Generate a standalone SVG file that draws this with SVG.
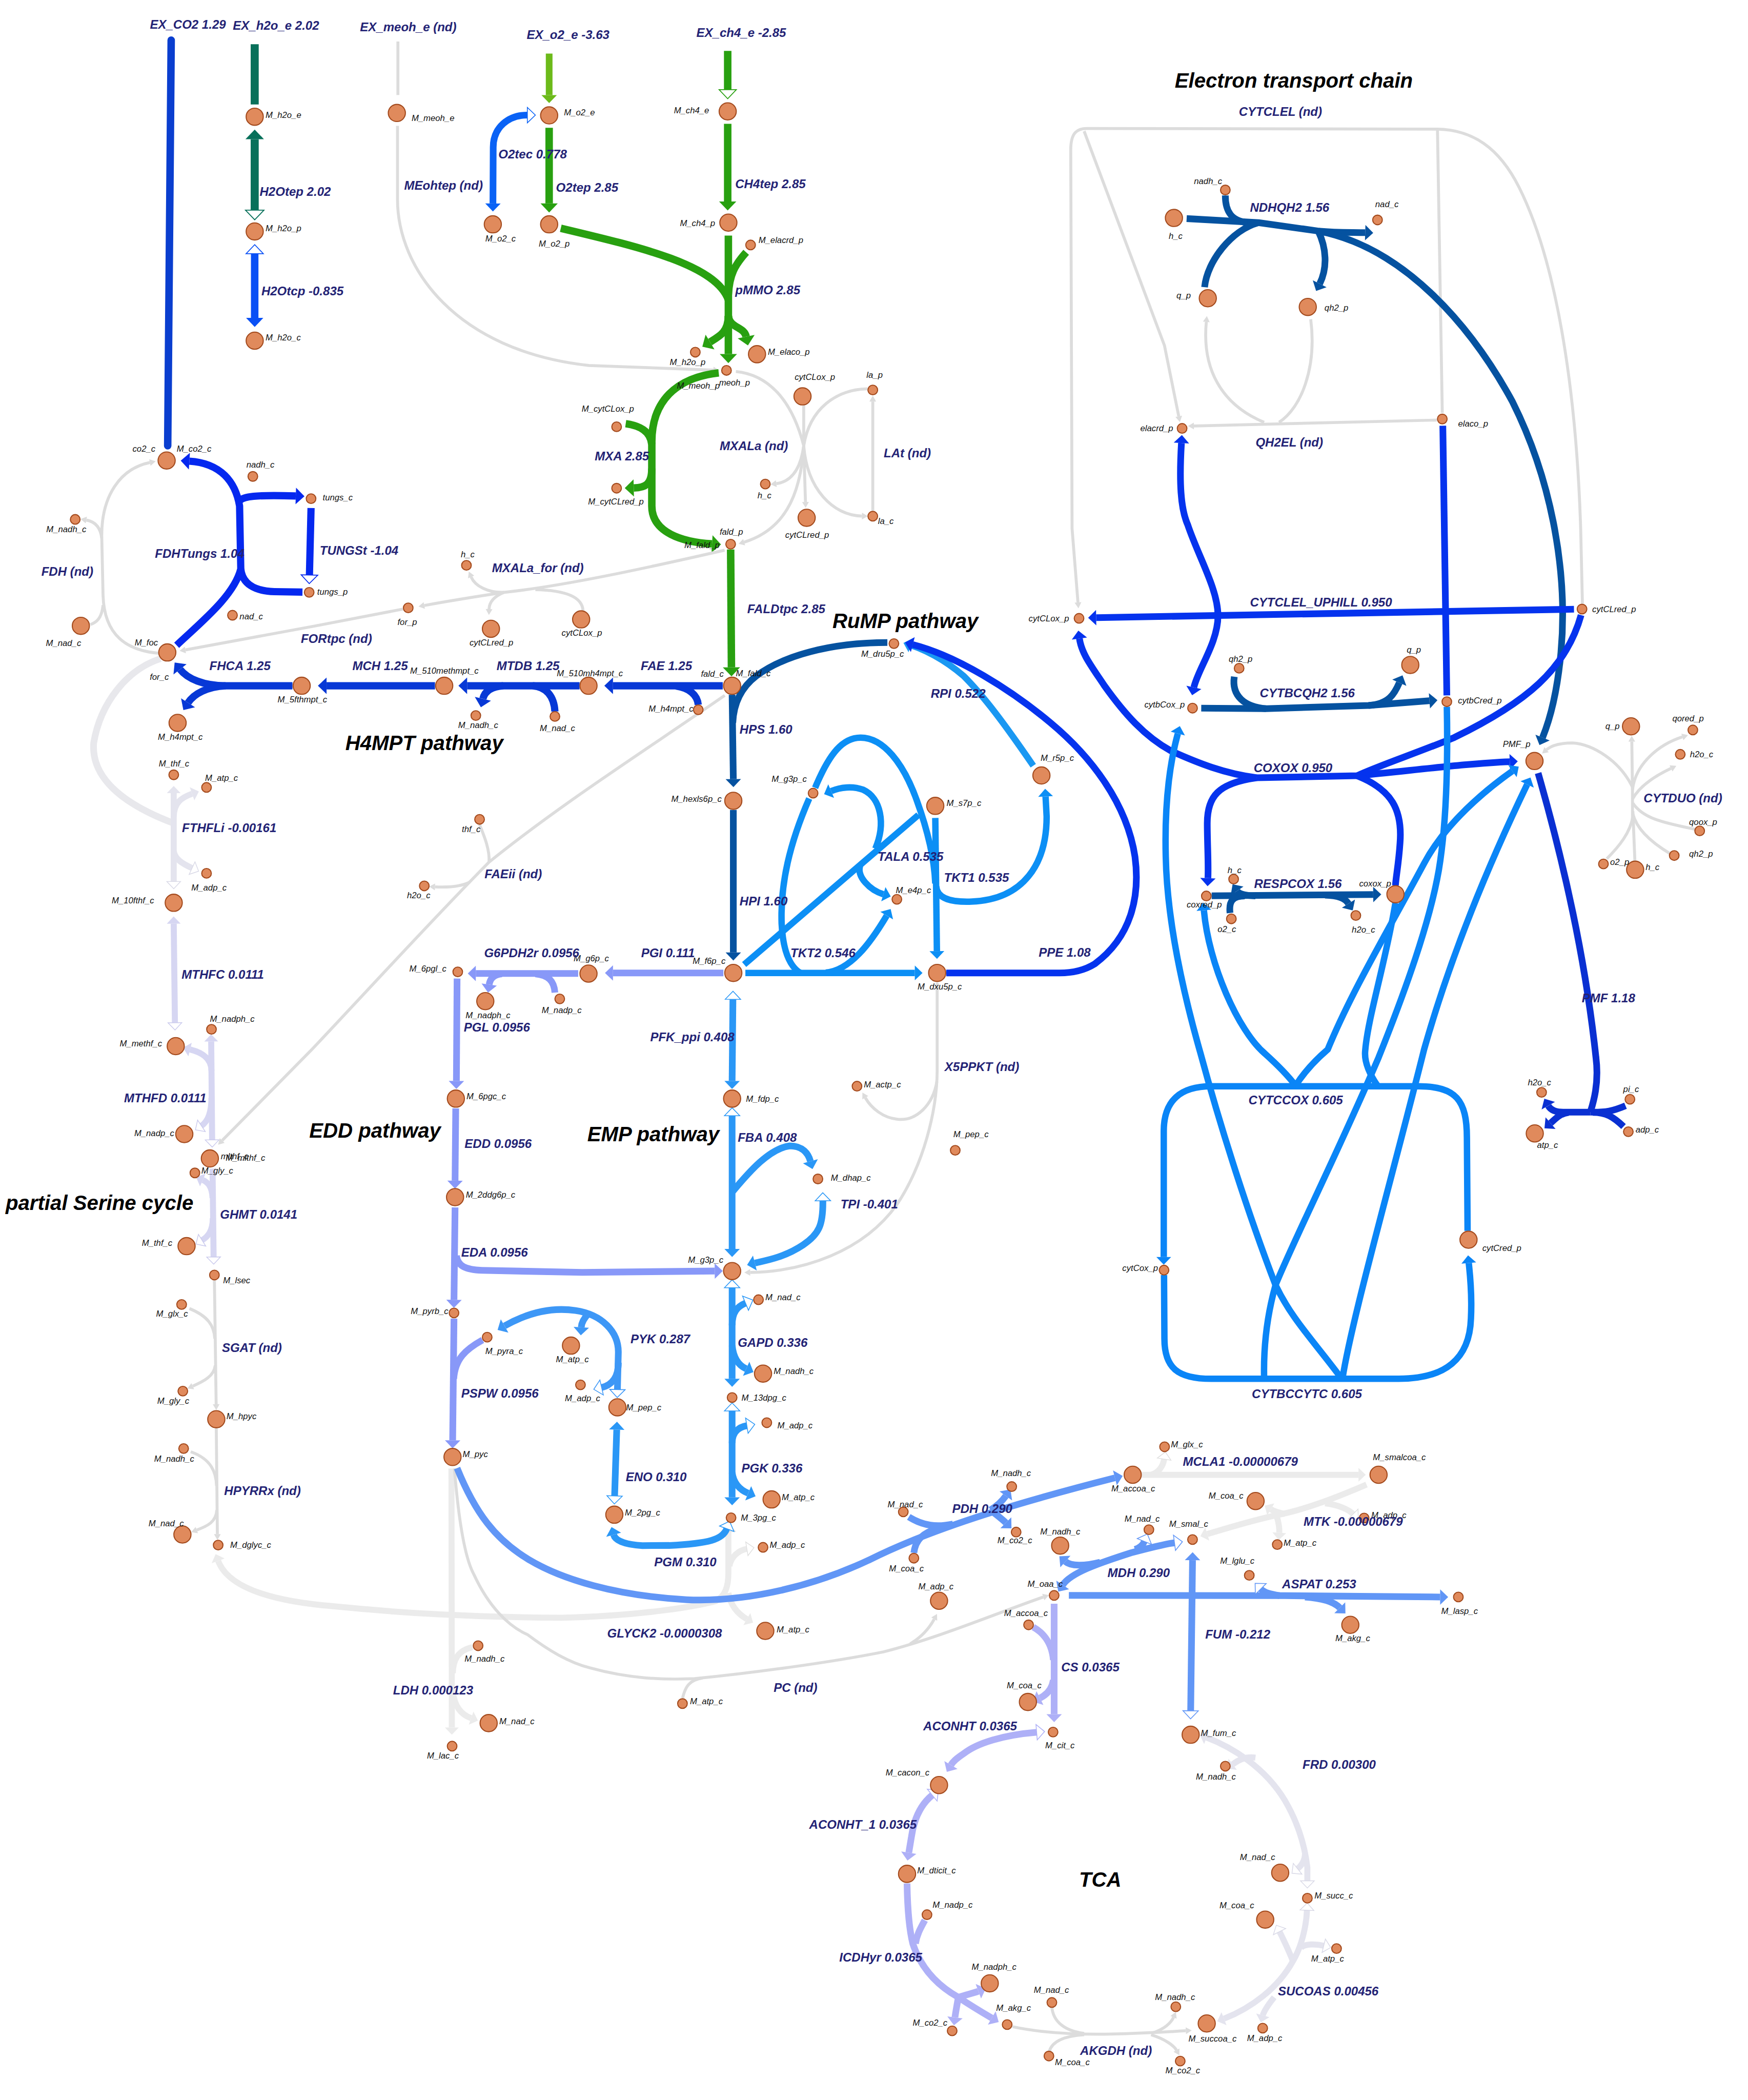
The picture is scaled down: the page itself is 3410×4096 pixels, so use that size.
<svg xmlns="http://www.w3.org/2000/svg" width="3410" height="4096" viewBox="0 0 3410 4096">
<style>
.l{fill:none;stroke-linejoin:round}
.g{stroke:#dcdcdc;stroke-width:2.2}
.b1{stroke:#0a3ecf;stroke-width:5.6}
.b2{stroke:#08705a;stroke-width:6}
.b3{stroke:#0a50f5;stroke-width:5.6}
.b4{stroke:#0a62f5;stroke-width:5}
.b5{stroke:#6cba1a;stroke-width:5}
.b6{stroke:#28a010;stroke-width:5.6}
.b7{stroke:#0528ef;stroke-width:5.4}
.b8{stroke:#0738d6;stroke-width:5.4}
.b9{stroke:#0552a0;stroke-width:5}
.b10{stroke:#0c8ff5;stroke-width:4.8}
.b10b{stroke:#1a98f2;stroke-width:4.8}
.b11{stroke:#0533ee;stroke-width:5}
.b12{stroke:#0a30d2;stroke-width:5}
.b13{stroke:#0a85f7;stroke-width:4.8}
.b14{stroke:#2a97f6;stroke-width:5}
.b14b{stroke:#3d97f6;stroke-width:5}
.b15{stroke:#6196f6;stroke-width:5}
.b16{stroke:#8898f8;stroke-width:5}
.b17{stroke:#aeb0f7;stroke-width:5}
.b18{stroke:#d6d6f2;stroke-width:4.5}
.b19{stroke:#e4e4ee;stroke-width:4.5}
.b20{stroke:#ebebeb;stroke-width:4.5}
.bw{stroke:#e8e8ec;stroke-width:5}
.n{fill:#e08a5c;stroke:#a34a1d;stroke-width:0.8}
.ml{font-family:'Liberation Sans',Arial,sans-serif;font-style:italic;font-size:6.4px;fill:#111}
.rl{font-family:'Liberation Sans',Arial,sans-serif;font-style:italic;font-weight:bold;font-size:9.2px;fill:#232375}
.tt{font-family:'Liberation Sans',Arial,sans-serif;font-style:italic;font-weight:bold;font-size:15.4px;fill:#000}
</style>
<defs>
<marker id="fg" viewBox="-0.1 -1.3 2.3 2.6" markerWidth="2.3" markerHeight="2.6" refX="0" refY="0" orient="auto-start-reverse"><path d="M0,-1.15L2,0L0,1.15z" fill="#dcdcdc"/></marker>
<marker id="f2" viewBox="-0.1 -1.3 1.5 2.6" markerWidth="1.5" markerHeight="2.6" orient="auto-start-reverse"><path d="M0,-1.15L1.2,0L0,1.15z" fill="#08705a"/></marker>
<marker id="h2" viewBox="-0.1 -1.3 1.5 2.6" markerWidth="1.5" markerHeight="2.6" orient="auto-start-reverse"><path d="M0,-1.15L1.2,0L0,1.15z" fill="#fff" stroke="#08705a" stroke-width="0.12"/></marker>
<marker id="f3" viewBox="-0.1 -1.3 1.5 2.6" markerWidth="1.5" markerHeight="2.6" orient="auto-start-reverse"><path d="M0,-1.15L1.2,0L0,1.15z" fill="#0a50f5"/></marker>
<marker id="h3" viewBox="-0.1 -1.3 1.5 2.6" markerWidth="1.5" markerHeight="2.6" orient="auto-start-reverse"><path d="M0,-1.15L1.2,0L0,1.15z" fill="#fff" stroke="#0a50f5" stroke-width="0.12"/></marker>
<marker id="f4" viewBox="-0.1 -1.3 1.5 2.6" markerWidth="1.5" markerHeight="2.6" orient="auto-start-reverse"><path d="M0,-1.15L1.2,0L0,1.15z" fill="#0a62f5"/></marker>
<marker id="h4" viewBox="-0.1 -1.3 1.5 2.6" markerWidth="1.5" markerHeight="2.6" orient="auto-start-reverse"><path d="M0,-1.15L1.2,0L0,1.15z" fill="#fff" stroke="#0a62f5" stroke-width="0.12"/></marker>
<marker id="f5" viewBox="-0.1 -1.3 1.5 2.6" markerWidth="1.5" markerHeight="2.6" orient="auto-start-reverse"><path d="M0,-1.15L1.2,0L0,1.15z" fill="#6cba1a"/></marker>
<marker id="f6" viewBox="-0.1 -1.3 1.5 2.6" markerWidth="1.5" markerHeight="2.6" orient="auto-start-reverse"><path d="M0,-1.15L1.2,0L0,1.15z" fill="#28a010"/></marker>
<marker id="h6" viewBox="-0.1 -1.3 1.5 2.6" markerWidth="1.5" markerHeight="2.6" orient="auto-start-reverse"><path d="M0,-1.15L1.2,0L0,1.15z" fill="#fff" stroke="#28a010" stroke-width="0.12"/></marker>
<marker id="f7" viewBox="-0.1 -1.3 1.5 2.6" markerWidth="1.5" markerHeight="2.6" orient="auto-start-reverse"><path d="M0,-1.15L1.2,0L0,1.15z" fill="#0528ef"/></marker>
<marker id="h7" viewBox="-0.1 -1.3 1.5 2.6" markerWidth="1.5" markerHeight="2.6" orient="auto-start-reverse"><path d="M0,-1.15L1.2,0L0,1.15z" fill="#fff" stroke="#0528ef" stroke-width="0.12"/></marker>
<marker id="f8" viewBox="-0.1 -1.3 1.5 2.6" markerWidth="1.5" markerHeight="2.6" orient="auto-start-reverse"><path d="M0,-1.15L1.2,0L0,1.15z" fill="#0738d6"/></marker>
<marker id="f9" viewBox="-0.1 -1.3 1.5 2.6" markerWidth="1.5" markerHeight="2.6" orient="auto-start-reverse"><path d="M0,-1.15L1.2,0L0,1.15z" fill="#0552a0"/></marker>
<marker id="f10" viewBox="-0.1 -1.3 1.5 2.6" markerWidth="1.5" markerHeight="2.6" orient="auto-start-reverse"><path d="M0,-1.15L1.2,0L0,1.15z" fill="#0c8ff5"/></marker>
<marker id="f10b" viewBox="-0.1 -1.3 1.5 2.6" markerWidth="1.5" markerHeight="2.6" orient="auto-start-reverse"><path d="M0,-1.15L1.2,0L0,1.15z" fill="#1a98f2"/></marker>
<marker id="f11" viewBox="-0.1 -1.3 1.5 2.6" markerWidth="1.5" markerHeight="2.6" orient="auto-start-reverse"><path d="M0,-1.15L1.2,0L0,1.15z" fill="#0533ee"/></marker>
<marker id="f12" viewBox="-0.1 -1.3 1.5 2.6" markerWidth="1.5" markerHeight="2.6" orient="auto-start-reverse"><path d="M0,-1.15L1.2,0L0,1.15z" fill="#0a30d2"/></marker>
<marker id="f13" viewBox="-0.1 -1.3 1.5 2.6" markerWidth="1.5" markerHeight="2.6" orient="auto-start-reverse"><path d="M0,-1.15L1.2,0L0,1.15z" fill="#0a85f7"/></marker>
<marker id="f14" viewBox="-0.1 -1.3 1.5 2.6" markerWidth="1.5" markerHeight="2.6" orient="auto-start-reverse"><path d="M0,-1.15L1.2,0L0,1.15z" fill="#2a97f6"/></marker>
<marker id="h14" viewBox="-0.1 -1.3 1.5 2.6" markerWidth="1.5" markerHeight="2.6" orient="auto-start-reverse"><path d="M0,-1.15L1.2,0L0,1.15z" fill="#fff" stroke="#2a97f6" stroke-width="0.12"/></marker>
<marker id="f14b" viewBox="-0.1 -1.3 1.5 2.6" markerWidth="1.5" markerHeight="2.6" orient="auto-start-reverse"><path d="M0,-1.15L1.2,0L0,1.15z" fill="#3d97f6"/></marker>
<marker id="h14b" viewBox="-0.1 -1.3 1.5 2.6" markerWidth="1.5" markerHeight="2.6" orient="auto-start-reverse"><path d="M0,-1.15L1.2,0L0,1.15z" fill="#fff" stroke="#3d97f6" stroke-width="0.12"/></marker>
<marker id="f15" viewBox="-0.1 -1.3 1.5 2.6" markerWidth="1.5" markerHeight="2.6" orient="auto-start-reverse"><path d="M0,-1.15L1.2,0L0,1.15z" fill="#6196f6"/></marker>
<marker id="h15" viewBox="-0.1 -1.3 1.5 2.6" markerWidth="1.5" markerHeight="2.6" orient="auto-start-reverse"><path d="M0,-1.15L1.2,0L0,1.15z" fill="#fff" stroke="#6196f6" stroke-width="0.12"/></marker>
<marker id="f16" viewBox="-0.1 -1.3 1.5 2.6" markerWidth="1.5" markerHeight="2.6" orient="auto-start-reverse"><path d="M0,-1.15L1.2,0L0,1.15z" fill="#8898f8"/></marker>
<marker id="f17" viewBox="-0.1 -1.3 1.5 2.6" markerWidth="1.5" markerHeight="2.6" orient="auto-start-reverse"><path d="M0,-1.15L1.2,0L0,1.15z" fill="#aeb0f7"/></marker>
<marker id="h17" viewBox="-0.1 -1.3 1.5 2.6" markerWidth="1.5" markerHeight="2.6" orient="auto-start-reverse"><path d="M0,-1.15L1.2,0L0,1.15z" fill="#fff" stroke="#aeb0f7" stroke-width="0.12"/></marker>
<marker id="f18" viewBox="-0.1 -1.3 1.5 2.6" markerWidth="1.5" markerHeight="2.6" orient="auto-start-reverse"><path d="M0,-1.15L1.2,0L0,1.15z" fill="#d6d6f2"/></marker>
<marker id="h18" viewBox="-0.1 -1.3 1.5 2.6" markerWidth="1.5" markerHeight="2.6" orient="auto-start-reverse"><path d="M0,-1.15L1.2,0L0,1.15z" fill="#fff" stroke="#c8c8ec" stroke-width="0.12"/></marker>
<marker id="f19" viewBox="-0.1 -1.3 1.5 2.6" markerWidth="1.5" markerHeight="2.6" orient="auto-start-reverse"><path d="M0,-1.15L1.2,0L0,1.15z" fill="#e4e4ee"/></marker>
<marker id="h19" viewBox="-0.1 -1.3 1.5 2.6" markerWidth="1.5" markerHeight="2.6" orient="auto-start-reverse"><path d="M0,-1.15L1.2,0L0,1.15z" fill="#fff" stroke="#d8d8e6" stroke-width="0.12"/></marker>
<marker id="f20" viewBox="-0.1 -1.3 1.5 2.6" markerWidth="1.5" markerHeight="2.6" orient="auto-start-reverse"><path d="M0,-1.15L1.2,0L0,1.15z" fill="#ebebeb"/></marker>
<marker id="h20" viewBox="-0.1 -1.3 1.5 2.6" markerWidth="1.5" markerHeight="2.6" orient="auto-start-reverse"><path d="M0,-1.15L1.2,0L0,1.15z" fill="#fff" stroke="#dedede" stroke-width="0.12"/></marker>
</defs>
<rect width="3410" height="4096" fill="#fff"/>
<g transform="scale(2.611)">
<g id="connectors">
<path class="l b1" stroke-linecap="round" d="M127.9,30 L125.3,333"/>
<path class="l b2" d="M190.3,33 L190.3,78"/>
<path class="l b2" d="M190.3,104 L190.3,157" marker-start="url(#f2)" marker-end="url(#h2)"/>
<path class="l b3" d="M190.3,189.5 L190.3,237.5" marker-start="url(#h3)" marker-end="url(#f3)"/>
<path class="l g" d="M297.3,31 L297.3,71"/>
<path class="l g" d="M297,94 L297,149 C297,200 340,262 440,273 L533,276.5" marker-end="url(#fg)"/>
<path class="l b5" d="M410.3,40 L410.3,71" marker-end="url(#f5)"/>
<path class="l b4" d="M394,86 C380,86 368.5,95 368.5,110 L368.3,152" marker-start="url(#h4)" marker-end="url(#f4)"/>
<path class="l b6" d="M410.3,95.5 L410.3,152" marker-end="url(#f6)"/>
<path class="l b6" d="M543.7,38 L543.7,67" marker-end="url(#h6)"/>
<path class="l b6" d="M543.7,92.5 L543.7,150.5" marker-end="url(#f6)"/>
<path class="l b6" stroke-width="6" d="M419,170.5 C480,185 535,198 544.2,224"/>
<path class="l b6" stroke-width="6" d="M544.2,176 L544.2,238"/>
<path class="l b6" d="M557.5,188.5 C549,198 545,205 544.2,220"/>
<path class="l b6" stroke-width="5" d="M544.2,236 C544,248 538,251 530.5,255.5" marker-end="url(#f6)"/>
<path class="l b6" stroke-width="5" d="M544.2,236 L544.2,264.5" marker-end="url(#f6)"/>
<path class="l b6" stroke-width="5" d="M544.2,236 C545,245 556,244 557.5,251.5" marker-end="url(#f6)"/>
<path class="l b6" d="M537,278.5 C505,282 487,300 487,330 L487,378 C487,398 510,405 532,406.3" marker-end="url(#f6)"/>
<path class="l b6" d="M467.5,316.5 C478,318 486,322 487,332"/>
<path class="l b6" d="M487,350 C487,362 482,364.3 473.5,364.5" marker-end="url(#f6)"/>
<path class="l g" d="M549.8,277.5 C575,280 592,300 600.5,333"/>
<path class="l g" d="M600.5,303 L600.5,333"/>
<path class="l g" d="M600.5,333 C598,372 585,396 556,405" marker-end="url(#fg)"/>
<path class="l g" d="M600.5,333 C598,352 590,360 580,361.3" marker-end="url(#fg)"/>
<path class="l g" d="M600.5,333 L601.8,375" marker-end="url(#fg)"/>
<path class="l g" d="M648,290.5 C625,291 605,305 600.5,333"/>
<path class="l g" d="M600.5,333 C603,365 622,385 644,385.5" marker-end="url(#fg)"/>
<path class="l g" d="M652.1,381.5 L652.1,300" marker-end="url(#fg)"/>
<path class="l g" d="M1182.3,451 L1181,395 C1178,300 1165,200 1135,140 C1120,110 1100,97 1074,96.5 L812,96 C804,96 800,100 800,112 L801,395 L805.4,450" marker-end="url(#fg)"/>
<path class="l g" d="M810,98 L870,258 L880.7,311" marker-end="url(#fg)"/>
<path class="l g" d="M1074,96.5 L1077.6,308.5"/>
<path class="l b9" d="M886.6,163.3 L940.3,166.3 L984.9,172.6 C1000,174 1010,173.5 1020,173.8" marker-end="url(#f9)"/>
<path class="l b9" d="M915.5,146 C915.5,158 920,165 932,166.3"/>
<path class="l b9" d="M900,214.5 C902,195 920,172 940.3,166.3"/>
<path class="l b9" d="M984.9,172.6 C991,185 992,200 986,212" marker-end="url(#f9)"/>
<path class="l b9" d="M984.9,172.6 C1050,185 1100,245 1130,300 C1160,360 1172,430 1166,490 C1163,520 1157,540 1152.5,551" marker-end="url(#f9)"/>
<path class="l g" d="M1073.5,313.8 L892,318.2" marker-end="url(#fg)"/>
<path class="l g" d="M979.3,238.5 C984,275 972,305 955.6,315.5"/>
<path class="l g" d="M944.5,315.5 C912,302 898,275 901.3,240.5" marker-end="url(#fg)"/>
<path class="l b11" d="M882.7,331 C881,360 882,380 887.4,392 C895,415 910,440 910,460 C910,480 895,500 892,513.5" marker-start="url(#f11)" marker-end="url(#f11)"/>
<path class="l b11" d="M1078,318 L1081,519.5"/>
<path class="l b11" d="M1176,455.1 L819,461.4" marker-end="url(#f11)"/>
<path class="l b11" d="M939,581 L1014,579.5 C1060,575 1100,570 1128,569" marker-end="url(#f11)"/>
<path class="l b11" d="M1181.3,459.5 C1170,500 1140,525 1086.6,550.9 C1060,562 1030,572 1014,579.5"/>
<path class="l b11" d="M939,581 C915,578 895,570 875,561 C855,550 840,533 825,512 C815,497 808,488 806.5,477" marker-end="url(#f11)"/>
<path class="l b11" d="M939,581 C910,585 902,595 902,615 C902,630 903,645 902.5,656" marker-end="url(#f11)"/>
<path class="l b11" d="M1014,579.5 C1040,590 1048,605 1046,630 C1045,645 1043,655 1042.6,661.5"/>
<path class="l b9" d="M897.5,529 L945.9,529.4 L1022.5,527 L1068,523.5" marker-end="url(#f9)"/>
<path class="l b9" d="M922.2,505.5 C920,520 930,528 945.9,529.4"/>
<path class="l b9" d="M1022.5,527 C1038,526 1042,518 1045.5,510" marker-end="url(#f9)"/>
<path class="l b9" d="M905.3,669.2 L1026,668.2" marker-end="url(#f9)"/>
<path class="l b9" d="M919,682 C918,673 921,669.5 930,669.3"/>
<path class="l b9" d="M938,669.3 C930,669 926,668 924.3,665.5" marker-end="url(#f9)"/>
<path class="l b9" d="M990,668.7 C1000,669 1005,671 1007.5,675" marker-end="url(#f9)"/>
<path class="l b12" d="M1149.2,577.5 C1170,650 1185,720 1192.4,790 C1195,810 1190,825 1188.2,830.8"/>
<path class="l b12" d="M1188.2,830.8 L1168,830.8 C1162,830.8 1158.5,829 1156.8,826" marker-end="url(#f12)"/>
<path class="l b12" d="M1172,831 C1165,832 1162,836 1158.5,839" marker-end="url(#f12)"/>
<path class="l b12" d="M1214.5,826 C1205,830 1200,831 1188.2,830.8"/>
<path class="l b12" d="M1213,841.5 C1205,834 1200,831 1190,831"/>
<path class="l g" d="M1219.7,583 L1219.7,615"/>
<path class="l g" d="M1219.7,588 C1210,568 1190,556 1175,555 C1165,555 1159,557 1155.5,560" marker-end="url(#fg)"/>
<path class="l g" d="M1219.7,590 L1219.2,554" marker-end="url(#fg)"/>
<path class="l g" d="M1219.7,590 C1222,570 1240,556 1257,550.5" marker-end="url(#fg)"/>
<path class="l g" d="M1219.7,597 C1225,587 1238,579 1248.5,574" marker-end="url(#fg)"/>
<path class="l g" d="M1266.5,619.5 C1245,615 1228,612 1220,600"/>
<path class="l g" d="M1247.5,637.5 C1235,630 1223,620 1220,608"/>
<path class="l g" d="M1221.5,643 L1220,606"/>
<path class="l g" d="M1200.5,641.5 C1210,632 1218,622 1220,610"/>
<path class="l b13" d="M1096.5,919.5 L1096,850 C1096,822 1088,811.5 1060,811.5 L905,811.5 C882,811.5 869.5,822 869.5,845 L869.5,939" marker-end="url(#f13)"/>
<path class="l b13" d="M869.7,952.5 L870,1000 C870,1022 880,1030 905,1030 L1045,1030 C1080,1030 1098,1015 1099,985 C1100,965 1098,950 1097.4,943.5" marker-end="url(#f13)"/>
<path class="l b13" d="M1001,1028 C980,1000 965,985 953,960 C930,900 910,835 897,787 C885,745 872,690 871,640 C870,600 874,570 880,548" marker-end="url(#f13)"/>
<path class="l b13" d="M899.5,680 C903,720 925,770 945,787 C955,796 962,803 968,811" marker-start="url(#f13)"/>
<path class="l b13" d="M968,811 C975,800 985,790 992,784 C1010,740 1040,690 1064,645 C1080,615 1110,590 1130,576" marker-end="url(#f13)"/>
<path class="l b13" d="M1081,528 C1082,580 1080,620 1075,650 C1068,690 1050,740 1030,790 C1000,860 965,930 953,960 C946,985 944,1010 944.5,1030"/>
<path class="l b13" d="M1042.6,674.5 C1035,720 1022,760 1020,785 C1019,795 1025,805 1029.5,811.5"/>
<path class="l b13" d="M1003,1030 C1010,985 1040,880 1064,784 C1085,710 1115,640 1141,586" marker-end="url(#f13)"/>
<path class="l g" d="M118.5,488 C95,486 78,475 77,445 L76,400 C76,370 90,350 112,345.5" marker-end="url(#fg)"/>
<path class="l g" d="M76,402 C75,393 70,389.5 64.5,388.5" marker-end="url(#fg)"/>
<path class="l g" d="M77,452 C76,462 72,465 67.5,466.5"/>
<path class="l b7" d="M132,482 C150,465 175,445 179.9,425 L179,378 C176,360 165,346 141.5,344.5" marker-end="url(#f7)"/>
<path class="l b7" d="M179,374 C182,371 190,369.5 221,370.5" marker-end="url(#f7)"/>
<path class="l b7" d="M179.9,425 C181,436 190,441.5 205,442 L226,442.3"/>
<path class="l b7" d="M232.4,379.5 L231.2,429.5" marker-end="url(#h7)"/>
<path class="l g" d="M301,455 C250,465 170,480 138.5,485.5" marker-end="url(#fg)"/>
<path class="l g" d="M541.4,411 C480,425 420,438 376.6,442.5 C360,445 335,449 317,452.3" marker-end="url(#fg)"/>
<path class="l g" d="M376.6,442.5 C365,443 355,438 352,431" marker-end="url(#fg)"/>
<path class="l g" d="M376.6,442.5 C368,446 365.5,451 365.4,455" marker-end="url(#fg)"/>
<path class="l g" d="M435.6,456 C435,447 425,441 400,440.5"/>
<path class="l b8" d="M218.5,512.3 L168.6,512.3 C152,512.3 140,507 134.5,500" marker-end="url(#f8)"/>
<path class="l b8" d="M168.6,512.3 C155,513 145,518 140.5,525" marker-end="url(#f8)"/>
<path class="l b8" d="M325,512.3 L244,512.3" marker-end="url(#f8)"/>
<path class="l b8" d="M433,512.3 L349,512.3" marker-end="url(#f8)"/>
<path class="l b8" d="M414.6,531.5 C414,520 408,513 398,512.3"/>
<path class="l b8" d="M376,512.3 C366,513 362,517 360.8,522" marker-end="url(#f8)"/>
<path class="l b8" d="M540,512.3 L458,512.3" marker-end="url(#f8)"/>
<path class="l b8" d="M521.7,526.5 C521,519 515,514 505,512.5"/>
<path class="l b6" d="M545.9,410.5 L546.5,498.5" marker-end="url(#f6)"/>
<path class="l b9" d="M547,519 L547.9,582" marker-end="url(#f9)"/>
<path class="l b9" d="M663,480 C620,480 585,490 565,505 C552,515 548,528 547.5,540"/>
<path class="l b9" d="M547.9,605 L547.9,711.5" marker-end="url(#f9)"/>
<path class="l b16" d="M540.5,726.8 L458,726.8" marker-end="url(#f16)"/>
<path class="l b14" d="M547,807.5 L547.6,746.5" marker-start="url(#f14)" marker-end="url(#h14)"/>
<path class="l b10" d="M686.2,608.8 L556,720.5"/>
<path class="l b10" d="M654,634 C662,615 658,596 645,590 C637,587 628,588 621,591" marker-end="url(#f10)"/>
<path class="l b10" d="M642.6,646.6 C640,655 650,665 660,668" marker-end="url(#f10)"/>
<path class="l b10" d="M609,588.5 C620,562 630,551 643,551 C660,551 675,570 685,598 C693,620 698,640 698.8,660"/>
<path class="l b10" d="M698.8,611 L700,710.5" marker-end="url(#f10)"/>
<path class="l b10" d="M699.5,662 C700,672 712,674 726,673.5 C765,672 782,645 782,610 L781.2,595" marker-end="url(#f10)"/>
<path class="l b10" d="M556.9,726.8 L683.5,726.8" marker-end="url(#f10)"/>
<path class="l b10" d="M604.6,596.5 C590,630 583,660 584,690 C585,710 590,722 598,726.8"/>
<path class="l b10" d="M617,726.5 C635,725 650,705 662.5,684" marker-end="url(#f10)"/>
<path class="l b10b" d="M772,572 C750,540 735,520 720,505 C705,492 690,485 680.5,482" marker-end="url(#f10b)"/>
<path class="l b11" d="M707,726.8 L791.5,726.8 C800,726.8 810,725 818,720 C845,700 852,670 848,640 C842,600 815,565 785,540 C755,515 715,490 682,481.5" marker-end="url(#f11)"/>
<path class="l bw" d="M120,492 C95,500 75,525 70,555 C68,580 90,600 129.8,615"/>
<path class="l b19" d="M129.8,592.5 L129.8,658.5" marker-start="url(#f19)" marker-end="url(#h19)"/>
<path class="l b19" d="M129.8,610 C130,600 135,596 143.5,593" marker-end="url(#f19)"/>
<path class="l b19" d="M129.8,636 C131,642 136,645 143.5,648.5" marker-end="url(#h19)"/>
<path class="l b18" d="M129.8,690 L130.7,764" marker-start="url(#f18)" marker-end="url(#h18)"/>
<path class="l b18" d="M157.8,778 L158.5,851.5" marker-start="url(#f18)" marker-end="url(#h18)"/>
<path class="l b18" d="M158,800 C158,790 150,786 142,784" marker-end="url(#f18)"/>
<path class="l b18" d="M158,820 C158,832 155,838 150.5,841" marker-end="url(#h18)"/>
<path class="l b18" d="M158.8,873 L159.6,939" marker-end="url(#h18)"/>
<path class="l b18" d="M158.8,895 C158.5,886 155,883 151.5,881.5" marker-end="url(#f18)"/>
<path class="l b18" d="M159,910 C159,920 155,924 151,926.5" marker-end="url(#h18)"/>
<path class="l g" d="M541.5,519.5 C480,562 420,600 365.4,644 C320,690 270,745 233,784 L166,852" marker-end="url(#fg)"/>
<path class="l g" d="M358.3,616 C362,625 366,635 365.4,644"/>
<path class="l g" d="M351,659 C345,662 335,663 325,662.5" marker-end="url(#fg)"/>
<path class="l g" d="M160.2,956.5 L161.5,1049" marker-end="url(#fg)"/>
<path class="l g" d="M141.5,977.5 C155,983 160,990 160.5,1000"/>
<path class="l g" d="M160.8,1020 C160,1028 152,1032 144,1035.5" marker-end="url(#fg)"/>
<path class="l g" d="M161.6,1067 L162.4,1146" marker-end="url(#fg)"/>
<path class="l g" d="M142.5,1084.5 C158,1090 161.5,1100 161.8,1110"/>
<path class="l g" d="M162,1128 C161.5,1137 155,1140 147,1143" marker-end="url(#fg)"/>
<path class="l b20" stroke-width="5" d="M163,1166 C170,1185 200,1196 250,1200 C300,1205 350,1208 420,1208.5 C480,1207 520,1200 535,1196 C542,1192 544.2,1185 544.2,1175 L544.2,1144" marker-start="url(#f20)" marker-end="url(#h20)"/>
<path class="l b20" d="M544.2,1190 C546,1200 552,1206 558,1209.5" marker-end="url(#f20)"/>
<path class="l b20" d="M545,1170 C546,1163 552,1158 558,1157" marker-end="url(#h20)"/>
<path class="l b20" stroke-width="4" d="M337.3,1097 L337.6,1290.5" marker-end="url(#f20)"/>
<path class="l b20" stroke-width="4" d="M353,1230.5 C342,1233 338.5,1240 338.3,1250"/>
<path class="l b20" stroke-width="4" d="M338.3,1262 C339,1275 345,1281 352,1283.5" marker-end="url(#f20)"/>
<path class="l g" d="M339.5,1097 C343,1140 348,1165 354,1176 C365,1200 380,1215 394,1221 C410,1233 425,1242 441,1246 C470,1254 495,1255 519,1254 C560,1250 620,1242 660,1234 C700,1224 745,1205 779.5,1193" marker-end="url(#fg)"/>
<path class="l g" d="M510,1268.5 C512,1260 515,1255 525,1253.5"/>
<path class="l g" d="M680,1228 C690,1222 695,1215 698,1209.5" marker-end="url(#fg)"/>
<path class="l b15" d="M341.5,1096.7 C355,1130 370,1150 395,1165 C420,1180 460,1192 513,1195 C560,1197 610,1184 650,1165 C700,1140 770,1120 833,1104" marker-end="url(#f15)"/>
<path class="l b15" d="M679,1133.2 C690,1140 700,1141 712,1138.5"/>
<path class="l b15" d="M682.8,1160 C684,1150 690,1145 700,1142"/>
<path class="l b15" d="M740,1128 C745,1125 749,1121 751.5,1117.5" marker-end="url(#f15)"/>
<path class="l b15" d="M740,1128 C745,1132 749,1135 751.5,1137.5" marker-end="url(#f15)"/>
<path class="l b20" d="M853,1101.7 L1015,1101.7" marker-end="url(#f20)"/>
<path class="l b20" d="M860,1101.7 C866,1100 869,1095 869.8,1090" marker-end="url(#h20)"/>
<path class="l b20" stroke-width="4" d="M1021,1109 C1000,1118 975,1128 952.9,1132 C935,1136 915,1142 902,1146" marker-end="url(#f20)"/>
<path class="l b20" stroke-width="4" d="M960,1131 C955,1130 952,1129 949.5,1127.5" marker-end="url(#f20)"/>
<path class="l b20" stroke-width="4" d="M990,1123 C1000,1124 1008,1128 1011,1131" marker-end="url(#h20)"/>
<path class="l b20" stroke-width="4" d="M954,1133 C955.5,1138 956,1142 955.8,1145" marker-end="url(#f20)"/>
<path class="l b15" d="M794,1184 C800,1175 820,1168 845,1160 C860,1156 870,1153.5 877.5,1152.5" marker-start="url(#f15)" marker-end="url(#h15)"/>
<path class="l b15" d="M822,1167 C810,1170 800,1170 796,1166.5" marker-end="url(#f15)"/>
<path class="l b15" d="M848,1157.5 C852,1156 854,1154 855,1151.5" marker-end="url(#h15)"/>
<path class="l b15" d="M891,1165.5 L889.6,1278" marker-start="url(#f15)" marker-end="url(#h15)"/>
<path class="l b15" d="M798.6,1191.8 L960,1192 C1000,1192 1040,1193 1076,1193" marker-end="url(#f15)"/>
<path class="l b15" d="M956,1192 C950,1191 945,1190 942,1187" marker-end="url(#h15)"/>
<path class="l b15" d="M975,1193 C990,1194 997,1197 1001,1201" marker-end="url(#f15)"/>
<path class="l b17" d="M787.6,1198 L787.6,1280.5" marker-end="url(#f17)"/>
<path class="l b17" d="M772,1215.5 C780,1220 786,1228 787,1240"/>
<path class="l b17" d="M787,1255 C786,1262 782,1266 777,1268.5" marker-end="url(#f17)"/>
<path class="l b17" d="M774.5,1294 C750,1296 730,1302 720,1310 C714,1314 712,1316 710.5,1318.5" marker-start="url(#h17)" marker-end="url(#f17)"/>
<path class="l b17" d="M696.5,1341 C688,1348 683,1358 681,1372 L679,1384" marker-start="url(#h17)" marker-end="url(#f17)"/>
<path class="l b17" d="M677.7,1407 C678,1425 679,1440 682,1452 C688,1470 700,1483 716,1492 C725,1498 735,1504 741,1507.5" marker-end="url(#f17)"/>
<path class="l b17" d="M691,1434.5 C688,1440 685,1445 684,1452"/>
<path class="l b17" d="M716,1492 C722,1490 727,1489 731,1487.5" marker-end="url(#f17)"/>
<path class="l b17" d="M716,1492 C715,1498 714,1503 713.5,1507" marker-end="url(#f17)"/>
<path class="l g" d="M756.5,1514 C775,1518 800,1520 830,1519.5 C850,1519 870,1518 886,1517" marker-end="url(#fg)"/>
<path class="l g" d="M785.9,1499.5 C787,1510 795,1517 810,1519"/>
<path class="l g" d="M784,1532.5 C786,1525 795,1521 810,1520"/>
<path class="l g" d="M860,1519 C870,1516 875,1511 876.8,1507" marker-end="url(#fg)"/>
<path class="l g" d="M860,1520 C870,1523 877,1528 879,1531.5" marker-end="url(#fg)"/>
<path class="l b19" d="M976.5,1427 C976,1440 972,1455 966,1465 C955,1485 935,1500 914.5,1508" marker-start="url(#h19)" marker-end="url(#f19)"/>
<path class="l b19" d="M966,1465 C962,1455 958,1447 956,1443" marker-end="url(#h19)"/>
<path class="l b19" d="M972,1455 C975,1452 983,1452 989,1453.5" marker-end="url(#h19)"/>
<path class="l b19" d="M952,1492 C948,1497 944.5,1502 943.5,1505.5" marker-end="url(#f19)"/>
<path class="l b19" stroke-width="4" d="M901.5,1298 C920,1305 945,1320 960,1345 C970,1362 975,1380 976.8,1395 L976.8,1405" marker-start="url(#f19)" marker-end="url(#h19)"/>
<path class="l b19" stroke-width="4" d="M938,1313 C930,1312 925,1315 921,1318" marker-end="url(#f19)"/>
<path class="l b19" stroke-width="4" d="M975,1385 C975,1390 972,1394 969.5,1396" marker-end="url(#h19)"/>
<path class="l b16" d="M432,727.2 L355.5,727.2" marker-end="url(#f16)"/>
<path class="l b16" d="M414.6,741.5 C414,733 410,728.5 400,727.5"/>
<path class="l b16" d="M375,727.5 C368,728 366,732 365.5,735.5" marker-end="url(#f16)"/>
<path class="l b16" d="M341.5,731 L341,807.5" marker-end="url(#f16)"/>
<path class="l b16" d="M340.5,828 L340,882" marker-end="url(#f16)"/>
<path class="l b16" d="M340,902 L339.2,971" marker-end="url(#f16)"/>
<path class="l b16" d="M341,938 C342,946 348,948.5 360,949 L435,950.5 L534,949.5" marker-end="url(#f16)"/>
<path class="l b16" d="M339.2,985 L338.2,1076" marker-end="url(#f16)"/>
<path class="l b16" d="M360.5,1001 C348,1008 340,1015 339,1030"/>
<path class="l b14" d="M547,833.5 L547,933" marker-start="url(#h14)" marker-end="url(#f14)"/>
<path class="l b14" d="M547.5,890 C560,875 575,858 590,856 C600,856 604,862 605.5,867.5" marker-end="url(#f14)"/>
<path class="l b14" d="M614.8,897 C615,915 612,922 600,930 C585,940 570,942 564,943.5" marker-start="url(#h14)" marker-end="url(#f14)"/>
<path class="l g" d="M700.2,734 L700.2,800 C700,830 690,870 670,900 C645,935 600,950 560.5,950.5" marker-end="url(#fg)"/>
<path class="l g" d="M700,808 C697,825 685,838 670,836 C660,835 651,828 646.5,820" marker-end="url(#fg)"/>
<path class="l b14" d="M547,962 L547,1030" marker-start="url(#h14)" marker-end="url(#f14)"/>
<path class="l b14" d="M547,990 C547,980 551,976 557,973.5" marker-end="url(#h14)"/>
<path class="l b14" d="M547,1005 C548,1015 552,1020 557.5,1022.5" marker-end="url(#f14)"/>
<path class="l b14" d="M547,1054 L547,1118.5" marker-start="url(#h14)" marker-end="url(#f14)"/>
<path class="l b14" d="M547,1078 C547,1070 552,1066 558,1065" marker-end="url(#h14)"/>
<path class="l b14" d="M547,1100 C548,1108 553,1113 559,1115.5" marker-end="url(#f14)"/>
<path class="l b14" d="M459.2,1117.5 L460.8,1068" marker-start="url(#h14)" marker-end="url(#f14)"/>
<path class="l b14" d="M543,1142 C540,1150 530,1153 500,1154.5 L480,1154.6 C470,1154 460,1152 458.5,1146.5" marker-start="url(#h14)" marker-end="url(#f14)"/>
<path class="l b14b" d="M461.3,1038 L462,1010 C462,995 450,982 430,979 C410,976 392,982 377,990.5" marker-start="url(#h14b)" marker-end="url(#f14b)"/>
<path class="l b14b" d="M440,981 C436,985 434.5,988 434.3,991.5" marker-end="url(#f14b)"/>
<path class="l b14b" d="M462,1018 C462,1030 456,1035 449.5,1036.5" marker-end="url(#h14b)"/>
</g>
<g id="nodes">
<g id="m_co2_c"><circle class="n" cx="124.5" cy="344" r="6.4"/><text class="ml" x="99" y="337.4">co2_c</text><text class="ml" x="132" y="337.4">M_co2_c</text></g>
<g id="m_h2o_e"><circle class="n" cx="190.3" cy="87.2" r="6.4"/><text class="ml" x="198.4" y="87.9">M_h2o_e</text></g>
<g id="m_h2o_p"><circle class="n" cx="190.3" cy="172.9" r="6.4"/><text class="ml" x="198.4" y="172.8">M_h2o_p</text></g>
<g id="m_h2o_c"><circle class="n" cx="190.3" cy="254.5" r="6.4"/><text class="ml" x="198.4" y="254.5">M_h2o_c</text></g>
<g id="m_meoh_e"><circle class="n" cx="296.5" cy="84.4" r="6.4"/><text class="ml" x="307.5" y="90.4">M_meoh_e</text></g>
<g id="m_o2_e"><circle class="n" cx="410.3" cy="86.2" r="6.4"/><text class="ml" x="421.4" y="86.1">M_o2_e</text></g>
<g id="m_o2_c"><circle class="n" cx="368.2" cy="167.6" r="6.4"/><text class="ml" x="362.6" y="180.4">M_o2_c</text></g>
<g id="m_o2_p"><circle class="n" cx="410.3" cy="167.6" r="6.4"/><text class="ml" x="402.5" y="184.2">M_o2_p</text></g>
<g id="m_ch4_e"><circle class="n" cx="543.7" cy="83.2" r="6.4"/><text class="ml" x="503.5" y="84.6">M_ch4_e</text></g>
<g id="m_ch4_p"><circle class="n" cx="544.2" cy="166.3" r="6.4"/><text class="ml" x="508" y="169">M_ch4_p</text></g>
<g id="m_elacrd_p"><circle class="n" cx="560.8" cy="183" r="3.6"/><text class="ml" x="566.7" y="181.6">M_elacrd_p</text></g>
<g id="m_h2o_p2"><circle class="n" cx="519.5" cy="263.1" r="3.6"/><text class="ml" x="500.4" y="272.8">M_h2o_p</text></g>
<g id="m_elaco_p"><circle class="n" cx="565.6" cy="264.6" r="6.4"/><text class="ml" x="573.7" y="265.2">M_elaco_p</text></g>
<g id="m_meoh_p"><circle class="n" cx="542.8" cy="276.7" r="3.6"/><text class="ml" x="505.7" y="290.2">M_meoh_p</text><text class="ml" x="537.2" y="288.2">meoh_p</text></g>
<g id="m_cytCLox_p1"><circle class="n" cx="460.7" cy="318.8" r="3.6"/><text class="ml" x="434.6" y="307.7">M_cytCLox_p</text></g>
<g id="m_cytCLred_p1"><circle class="n" cx="460.7" cy="364.7" r="3.6"/><text class="ml" x="439.4" y="376.9">M_cytCLred_p</text></g>
<g id="m_cytCLox_p2"><circle class="n" cx="599.6" cy="296.1" r="6.4"/><text class="ml" x="593.7" y="283.7">cytCLox_p</text></g>
<g id="m_h_c1"><circle class="n" cx="571.8" cy="361.6" r="3.6"/><text class="ml" x="566" y="372.2">h_c</text></g>
<g id="m_cytCLred_p2"><circle class="n" cx="602.7" cy="386.8" r="6.4"/><text class="ml" x="586.7" y="401.9">cytCLred_p</text></g>
<g id="m_la_p"><circle class="n" cx="652.1" cy="291.3" r="3.6"/><text class="ml" x="647.4" y="282.4">la_p</text></g>
<g id="m_la_c"><circle class="n" cx="652.1" cy="385.6" r="3.6"/><text class="ml" x="656" y="391.6">la_c</text></g>
<g id="m_fald_p"><circle class="n" cx="545.9" cy="406.5" r="3.6"/><text class="ml" x="537.7" y="399.3">fald_p</text><text class="ml" x="511.3" y="409.4">M_fald_p</text></g>
<g id="m_fald_c"><circle class="n" cx="547" cy="512.3" r="6.4"/><text class="ml" x="523.7" y="505.4">fald_c</text><text class="ml" x="549.8" y="505.2">M_fald_c</text></g>
<g id="m_nadh_c_fdh"><circle class="n" cx="56.2" cy="388" r="3.6"/><text class="ml" x="34.6" y="397.6">M_nadh_c</text></g>
<g id="m_nad_c_fdh"><circle class="n" cx="60.4" cy="467.5" r="6.4"/><text class="ml" x="34.3" y="482.5">M_nad_c</text></g>
<g id="m_nadh_c_t"><circle class="n" cx="188.9" cy="355.9" r="3.6"/><text class="ml" x="184.1" y="349.2">nadh_c</text></g>
<g id="m_tungs_c"><circle class="n" cx="232.4" cy="372.5" r="3.6"/><text class="ml" x="241.1" y="373.9">tungs_c</text></g>
<g id="m_tungs_p"><circle class="n" cx="231" cy="442.5" r="3.6"/><text class="ml" x="237" y="444.2">tungs_p</text></g>
<g id="m_nad_c_t"><circle class="n" cx="173.7" cy="459.6" r="3.6"/><text class="ml" x="179" y="462.8">nad_c</text></g>
<g id="m_foc"><circle class="n" cx="125" cy="487.4" r="6.4"/><text class="ml" x="100.6" y="482">M_foc</text><text class="ml" x="111.9" y="507.7">for_c</text></g>
<g id="m_for_p"><circle class="n" cx="305" cy="454.1" r="3.6"/><text class="ml" x="297" y="466.9">for_p</text></g>
<g id="m_h_c2"><circle class="n" cx="348.5" cy="422.3" r="3.6"/><text class="ml" x="344.3" y="416.5">h_c</text></g>
<g id="m_cytCLred_p3"><circle class="n" cx="366.8" cy="469.7" r="6.4"/><text class="ml" x="350.8" y="482">cytCLred_p</text></g>
<g id="m_cytCLox_p3"><circle class="n" cx="434.2" cy="462.7" r="6.4"/><text class="ml" x="419.6" y="474.9">cytCLox_p</text></g>
<g id="m_5fthmpt_c"><circle class="n" cx="225.4" cy="512.3" r="6.4"/><text class="ml" x="207.4" y="524.6">M_5fthmpt_c</text></g>
<g id="m_h4mpt_c1"><circle class="n" cx="132.7" cy="540" r="6.4"/><text class="ml" x="118" y="552.6">M_h4mpt_c</text></g>
<g id="m_510methmpt_c"><circle class="n" cx="331.9" cy="512.3" r="6.4"/><text class="ml" x="306.4" y="503.2">M_510methmpt_c</text></g>
<g id="m_nadh_c_mtdb"><circle class="n" cx="355.5" cy="534.5" r="3.6"/><text class="ml" x="342.3" y="543.7">M_nadh_c</text></g>
<g id="m_nad_c_mtdb"><circle class="n" cx="414.6" cy="535.2" r="3.6"/><text class="ml" x="403.3" y="546">M_nad_c</text></g>
<g id="m_510mh4mpt_c"><circle class="n" cx="439.7" cy="512.3" r="6.4"/><text class="ml" x="416" y="505.2">M_510mh4mpt_c</text></g>
<g id="m_h4mpt_c2"><circle class="n" cx="521.7" cy="530.2" r="3.6"/><text class="ml" x="484.6" y="531.6">M_h4mpt_c</text></g>
<g id="m_thf_c1"><circle class="n" cx="129.8" cy="578.8" r="3.6"/><text class="ml" x="118.6" y="572.7">M_thf_c</text></g>
<g id="m_atp_c1"><circle class="n" cx="154.3" cy="588.2" r="3.6"/><text class="ml" x="153.2" y="583.2">M_atp_c</text></g>
<g id="m_adp_c1"><circle class="n" cx="154.3" cy="652.4" r="3.6"/><text class="ml" x="143" y="665.2">M_adp_c</text></g>
<g id="m_10fthf_c"><circle class="n" cx="129.8" cy="674.4" r="6.4"/><text class="ml" x="83.5" y="674.8">M_10fthf_c</text></g>
<g id="m_thf_c2"><circle class="n" cx="358.3" cy="612.1" r="3.6"/><text class="ml" x="345.1" y="621.6">thf_c</text></g>
<g id="m_h2o_c2"><circle class="n" cx="317" cy="661.8" r="3.6"/><text class="ml" x="304.1" y="671">h2o_c</text></g>
<g id="m_methf_c"><circle class="n" cx="131.3" cy="781.5" r="6.4"/><text class="ml" x="89.4" y="781.7">M_methf_c</text></g>
<g id="m_nadph_c1"><circle class="n" cx="158" cy="768.9" r="3.6"/><text class="ml" x="156.8" y="763.5">M_nadph_c</text></g>
<g id="m_nadp_c1"><circle class="n" cx="137.7" cy="847.2" r="6.4"/><text class="ml" x="100.3" y="848.6">M_nadp_c</text></g>
<g id="m_mlthf_c"><circle class="n" cx="156.8" cy="865.4" r="6.4"/><text class="ml" x="165" y="865.8">mlthf_c</text><text class="ml" x="168.6" y="867">M_mlthf_c</text></g>
<g id="m_gly_c1"><circle class="n" cx="145.6" cy="876.2" r="3.6"/><text class="ml" x="150.4" y="876.6">M_gly_c</text></g>
<g id="m_thf_c3"><circle class="n" cx="139.4" cy="930.9" r="6.4"/><text class="ml" x="106" y="930.6">M_thf_c</text></g>
<g id="m_lsec"><circle class="n" cx="160.2" cy="952.5" r="3.6"/><text class="ml" x="166.7" y="958.5">M_lsec</text></g>
<g id="m_glx_c1"><circle class="n" cx="135.7" cy="974.5" r="3.6"/><text class="ml" x="116.6" y="983.7">M_glx_c</text></g>
<g id="m_gly_c2"><circle class="n" cx="136.6" cy="1039.2" r="3.6"/><text class="ml" x="117.5" y="1048.5">M_gly_c</text></g>
<g id="m_hpyc"><circle class="n" cx="161.6" cy="1060.2" r="6.4"/><text class="ml" x="169.2" y="1060.3">M_hpyc</text></g>
<g id="m_nadh_c_h"><circle class="n" cx="137.2" cy="1082.1" r="3.6"/><text class="ml" x="115.2" y="1091.8">M_nadh_c</text></g>
<g id="m_nad_c_h"><circle class="n" cx="136.3" cy="1146.3" r="6.4"/><text class="ml" x="111" y="1140">M_nad_c</text></g>
<g id="m_dglyc_c"><circle class="n" cx="163" cy="1154.2" r="3.6"/><text class="ml" x="172" y="1156.4">M_dglyc_c</text></g>
<g id="m_g6p_c"><circle class="n" cx="439.7" cy="727.3" r="6.4"/><text class="ml" x="428.6" y="718.2">M_g6p_c</text></g>
<g id="m_6pgl_c"><circle class="n" cx="342" cy="726" r="3.6"/><text class="ml" x="305.8" y="725.7">M_6pgl_c</text></g>
<g id="m_nadph_c2"><circle class="n" cx="362.6" cy="747.9" r="6.4"/><text class="ml" x="347.9" y="760.5">M_nadph_c</text></g>
<g id="m_nadp_c2"><circle class="n" cx="418.2" cy="746.2" r="3.6"/><text class="ml" x="404.7" y="756.7">M_nadp_c</text></g>
<g id="m_6pgc_c"><circle class="n" cx="340.6" cy="820.7" r="6.4"/><text class="ml" x="348.5" y="821.2">M_6pgc_c</text></g>
<g id="m_2ddg6p_c"><circle class="n" cx="340" cy="894.3" r="6.4"/><text class="ml" x="348" y="894.8">M_2ddg6p_c</text></g>
<g id="m_pyrb_c"><circle class="n" cx="339.2" cy="980.8" r="3.6"/><text class="ml" x="306.9" y="981.7">M_pyrb_c</text></g>
<g id="m_pyra_c"><circle class="n" cx="364" cy="998.9" r="3.6"/><text class="ml" x="362.6" y="1011.5">M_pyra_c</text></g>
<g id="m_atp_c2"><circle class="n" cx="426.6" cy="1005.2" r="6.4"/><text class="ml" x="415.4" y="1017.5">M_atp_c</text></g>
<g id="m_adp_c2"><circle class="n" cx="433.7" cy="1034.5" r="3.6"/><text class="ml" x="422.1" y="1046.7">M_adp_c</text></g>
<g id="m_pyc"><circle class="n" cx="338.1" cy="1088.4" r="6.4"/><text class="ml" x="345.7" y="1088.3">M_pyc</text></g>
<g id="m_pep_c1"><circle class="n" cx="461.3" cy="1051.3" r="6.4"/><text class="ml" x="467.8" y="1053.5">M_pep_c</text></g>
<g id="m_2pg_c"><circle class="n" cx="459" cy="1131.5" r="6.4"/><text class="ml" x="466.9" y="1132.2">M_2pg_c</text></g>
<g id="m_dru5p_c"><circle class="n" cx="667.9" cy="480.8" r="3.6"/><text class="ml" x="643.4" y="490.6">M_dru5p_c</text></g>
<g id="m_hexls6p_c"><circle class="n" cx="547.9" cy="598.2" r="6.4"/><text class="ml" x="501.5" y="598.9">M_hexls6p_c</text></g>
<g id="m_g3p_c1"><circle class="n" cx="607.5" cy="592.5" r="3.6"/><text class="ml" x="576.5" y="584.1">M_g3p_c</text></g>
<g id="m_s7p_c"><circle class="n" cx="698.8" cy="602" r="6.4"/><text class="ml" x="707.2" y="602.2">M_s7p_c</text></g>
<g id="m_r5p_c"><circle class="n" cx="778.1" cy="579.3" r="6.4"/><text class="ml" x="777.5" y="568.2">M_r5p_c</text></g>
<g id="m_e4p_c"><circle class="n" cx="670.1" cy="671.8" r="3.6"/><text class="ml" x="669.3" y="667">M_e4p_c</text></g>
<g id="m_f6p_c"><circle class="n" cx="547.9" cy="726.8" r="6.4"/><text class="ml" x="517.5" y="720.2">M_f6p_c</text></g>
<g id="m_dxu5p_c"><circle class="n" cx="700.2" cy="726.8" r="6.4"/><text class="ml" x="685.6" y="739.1">M_dxu5p_c</text></g>
<g id="m_fdp_c"><circle class="n" cx="547" cy="820.7" r="6.4"/><text class="ml" x="557.4" y="822.9">M_fdp_c</text></g>
<g id="m_dhap_c"><circle class="n" cx="611.1" cy="880.7" r="3.6"/><text class="ml" x="620.7" y="882.2">M_dhap_c</text></g>
<g id="m_actp_c"><circle class="n" cx="640.3" cy="811.4" r="3.6"/><text class="ml" x="645.4" y="812.4">M_actp_c</text></g>
<g id="m_pep_c2"><circle class="n" cx="713.7" cy="859.3" r="3.6"/><text class="ml" x="712.3" y="849.4">M_pep_c</text></g>
<g id="m_g3p_c2"><circle class="n" cx="547" cy="949.5" r="6.4"/><text class="ml" x="514.1" y="943.4">M_g3p_c</text></g>
<g id="m_nad_c_g"><circle class="n" cx="566.7" cy="970.9" r="3.6"/><text class="ml" x="571.8" y="971.1">M_nad_c</text></g>
<g id="m_nadh_c_g"><circle class="n" cx="570.1" cy="1026.1" r="6.4"/><text class="ml" x="578" y="1026.3">M_nadh_c</text></g>
<g id="m_13dpg_c"><circle class="n" cx="547" cy="1044" r="3.6"/><text class="ml" x="554" y="1046.2">M_13dpg_c</text></g>
<g id="m_adp_c3"><circle class="n" cx="572.9" cy="1062.8" r="3.6"/><text class="ml" x="580.8" y="1066.9">M_adp_c</text></g>
<g id="m_atp_c3"><circle class="n" cx="576.5" cy="1120.1" r="6.4"/><text class="ml" x="584.1" y="1120.8">M_atp_c</text></g>
<g id="m_3pg_c"><circle class="n" cx="546.2" cy="1133.8" r="3.6"/><text class="ml" x="553.5" y="1136">M_3pg_c</text></g>
<g id="m_adp_c4"><circle class="n" cx="570.1" cy="1155.9" r="3.6"/><text class="ml" x="575.1" y="1156.4">M_adp_c</text></g>
<g id="m_atp_c4"><circle class="n" cx="571.8" cy="1218.3" r="6.4"/><text class="ml" x="580.2" y="1219.3">M_atp_c</text></g>
<g id="m_nad_c_pdh"><circle class="n" cx="674.9" cy="1129.4" r="3.6"/><text class="ml" x="663.2" y="1126.1">M_nad_c</text></g>
<g id="m_coa_c_pdh"><circle class="n" cx="682.8" cy="1164" r="3.6"/><text class="ml" x="664.2" y="1173.7">M_coa_c</text></g>
<g id="m_nadh_c_pdh"><circle class="n" cx="755.9" cy="1110.5" r="3.6"/><text class="ml" x="740.4" y="1102.7">M_nadh_c</text></g>
<g id="m_co2_c_pdh"><circle class="n" cx="759.2" cy="1144.5" r="3.6"/><text class="ml" x="745.2" y="1153">M_co2_c</text></g>
<g id="m_accoa_c1"><circle class="n" cx="846.3" cy="1101.7" r="6.4"/><text class="ml" x="830.3" y="1114">M_accoa_c</text></g>
<g id="m_glx_c2"><circle class="n" cx="870.1" cy="1080.8" r="3.6"/><text class="ml" x="874.9" y="1081.2">M_glx_c</text></g>
<g id="m_smalcoa_c"><circle class="n" cx="1030" cy="1101.7" r="6.4"/><text class="ml" x="1025.8" y="1090.6">M_smalcoa_c</text></g>
<g id="m_coa_c_mtk"><circle class="n" cx="938.1" cy="1121.3" r="6.4"/><text class="ml" x="903" y="1119.5">M_coa_c</text></g>
<g id="m_adp_c_mtk"><circle class="n" cx="1019.2" cy="1134" r="3.6"/><text class="ml" x="1024.5" y="1134.2">M_adp_c</text></g>
<g id="m_atp_c_mtk"><circle class="n" cx="954.3" cy="1153.8" r="3.6"/><text class="ml" x="959" y="1154.7">M_atp_c</text></g>
<g id="m_smal_c"><circle class="n" cx="891" cy="1150.1" r="3.6"/><text class="ml" x="873.5" y="1140.6">M_smal_c</text></g>
<g id="m_nad_c_mdh"><circle class="n" cx="858.4" cy="1142.7" r="3.6"/><text class="ml" x="840.2" y="1136.7">M_nad_c</text></g>
<g id="m_nadh_c_mdh"><circle class="n" cx="792.1" cy="1154.6" r="6.4"/><text class="ml" x="777.2" y="1146.3">M_nadh_c</text></g>
<g id="m_oaa_c"><circle class="n" cx="787.6" cy="1191.8" r="3.6"/><text class="ml" x="767.7" y="1185.2">M_oaa_c</text></g>
<g id="m_lglu_c"><circle class="n" cx="933.4" cy="1176.8" r="3.6"/><text class="ml" x="911.6" y="1168.2">M_lglu_c</text></g>
<g id="m_akg_c1"><circle class="n" cx="1008.9" cy="1213.8" r="6.4"/><text class="ml" x="997.7" y="1226">M_akg_c</text></g>
<g id="m_lasp_c"><circle class="n" cx="1089.6" cy="1193" r="3.6"/><text class="ml" x="1076.8" y="1205.5">M_lasp_c</text></g>
<g id="m_adp_c_pc"><circle class="n" cx="701.6" cy="1195.8" r="6.4"/><text class="ml" x="686.1" y="1187.2">M_adp_c</text></g>
<g id="m_atp_c_pc"><circle class="n" cx="509.9" cy="1272.6" r="3.6"/><text class="ml" x="515.5" y="1273.1">M_atp_c</text></g>
<g id="m_accoa_c2"><circle class="n" cx="768.5" cy="1213.8" r="3.6"/><text class="ml" x="750.2" y="1207.2">M_accoa_c</text></g>
<g id="m_coa_c_cs"><circle class="n" cx="768" cy="1271.4" r="6.4"/><text class="ml" x="752.2" y="1261.1">M_coa_c</text></g>
<g id="m_cit_c"><circle class="n" cx="786.8" cy="1293.9" r="3.6"/><text class="ml" x="780.9" y="1306.1">M_cit_c</text></g>
<g id="m_cacon_c"><circle class="n" cx="701.6" cy="1333.5" r="6.4"/><text class="ml" x="661.7" y="1326.2">M_cacon_c</text></g>
<g id="m_dticit_c"><circle class="n" cx="677.7" cy="1399.8" r="6.4"/><text class="ml" x="685.3" y="1399.5">M_dticit_c</text></g>
<g id="m_nadp_c3"><circle class="n" cx="692.6" cy="1430.3" r="3.6"/><text class="ml" x="696.8" y="1425">M_nadp_c</text></g>
<g id="m_nadph_c3"><circle class="n" cx="739.5" cy="1481.6" r="6.4"/><text class="ml" x="726" y="1471.3">M_nadph_c</text></g>
<g id="m_co2_c_icd"><circle class="n" cx="711.4" cy="1517.1" r="3.6"/><text class="ml" x="681.9" y="1513.1">M_co2_c</text></g>
<g id="m_akg_c2"><circle class="n" cx="752.5" cy="1512.4" r="3.6"/><text class="ml" x="744.3" y="1502.1">M_akg_c</text></g>
<g id="m_nad_c_akg"><circle class="n" cx="785.9" cy="1495.9" r="3.6"/><text class="ml" x="772.4" y="1488.8">M_nad_c</text></g>
<g id="m_coa_c_akg"><circle class="n" cx="783.7" cy="1535.9" r="3.6"/><text class="ml" x="788.2" y="1542.6">M_coa_c</text></g>
<g id="m_nadh_c_akg"><circle class="n" cx="878.5" cy="1499.1" r="3.6"/><text class="ml" x="863" y="1494">M_nadh_c</text></g>
<g id="m_co2_c_akg"><circle class="n" cx="881.8" cy="1539.7" r="3.6"/><text class="ml" x="870.7" y="1548.9">M_co2_c</text></g>
<g id="m_succoa_c"><circle class="n" cx="901.6" cy="1511.6" r="6.4"/><text class="ml" x="888" y="1525.1">M_succoa_c</text></g>
<g id="m_adp_c_suc"><circle class="n" cx="943.4" cy="1515.1" r="3.6"/><text class="ml" x="931.7" y="1524.6">M_adp_c</text></g>
<g id="m_atp_c_suc"><circle class="n" cx="998.6" cy="1455.6" r="3.6"/><text class="ml" x="979.6" y="1465.5">M_atp_c</text></g>
<g id="m_coa_c_suc"><circle class="n" cx="945.3" cy="1434" r="6.4"/><text class="ml" x="911.1" y="1425.5">M_coa_c</text></g>
<g id="m_succ_c"><circle class="n" cx="976.8" cy="1418" r="3.6"/><text class="ml" x="982.1" y="1418.2">M_succ_c</text></g>
<g id="m_nad_c_frd"><circle class="n" cx="956.5" cy="1399" r="6.4"/><text class="ml" x="926.4" y="1389.5">M_nad_c</text></g>
<g id="m_nadh_c_frd"><circle class="n" cx="915.5" cy="1319.4" r="3.6"/><text class="ml" x="893.5" y="1329.2">M_nadh_c</text></g>
<g id="m_fum_c"><circle class="n" cx="889.6" cy="1295.9" r="6.4"/><text class="ml" x="897.2" y="1296.9">M_fum_c</text></g>
<g id="m_lac_c"><circle class="n" cx="337.8" cy="1304.4" r="3.6"/><text class="ml" x="319" y="1313.6">M_lac_c</text></g>
<g id="m_nadh_c_ldh"><circle class="n" cx="357.2" cy="1229.4" r="3.6"/><text class="ml" x="347.1" y="1241.1">M_nadh_c</text></g>
<g id="m_nad_c_ldh"><circle class="n" cx="365.1" cy="1287.2" r="6.4"/><text class="ml" x="373" y="1287.9">M_nad_c</text></g>
<g id="e_h_c"><circle class="n" cx="877.1" cy="162.8" r="6.4"/><text class="ml" x="873.2" y="178.6">h_c</text></g>
<g id="e_nadh_c"><circle class="n" cx="915.5" cy="141.9" r="3.6"/><text class="ml" x="892.1" y="137.5">nadh_c</text></g>
<g id="e_nad_c"><circle class="n" cx="1029.2" cy="164.3" r="3.6"/><text class="ml" x="1027.5" y="154.7">nad_c</text></g>
<g id="e_q_p"><circle class="n" cx="902.4" cy="222.8" r="6.4"/><text class="ml" x="879" y="223">q_p</text></g>
<g id="e_qh2_p"><circle class="n" cx="977.1" cy="229.3" r="6.4"/><text class="ml" x="989.6" y="232">qh2_p</text></g>
<g id="e_elacrd_p"><circle class="n" cx="883.2" cy="320" r="3.6"/><text class="ml" x="852" y="322.2">elacrd_p</text></g>
<g id="e_elaco_p"><circle class="n" cx="1077.6" cy="313" r="3.6"/><text class="ml" x="1089.4" y="318.5">elaco_p</text></g>
<g id="e_cytCLox_p"><circle class="n" cx="806.2" cy="461.9" r="3.6"/><text class="ml" x="768.5" y="464.1">cytCLox_p</text></g>
<g id="e_cytCLred_p"><circle class="n" cx="1182" cy="455" r="3.6"/><text class="ml" x="1189.6" y="457.3">cytCLred_p</text></g>
<g id="e_cytbCox_p"><circle class="n" cx="891" cy="529" r="3.6"/><text class="ml" x="855" y="528.5">cytbCox_p</text></g>
<g id="e_cytbCred_p"><circle class="n" cx="1081" cy="524.2" r="3.6"/><text class="ml" x="1089.3" y="525.4">cytbCred_p</text></g>
<g id="e_qh2_p2"><circle class="n" cx="925.8" cy="499.2" r="3.6"/><text class="ml" x="918" y="494.3">qh2_p</text></g>
<g id="e_q_p2"><circle class="n" cx="1053.7" cy="496.7" r="6.4"/><text class="ml" x="1051" y="487.5">q_p</text></g>
<g id="e_PMF_p"><circle class="n" cx="1146.5" cy="568.5" r="6.4"/><text class="ml" x="1122.8" y="558.1">PMF_p</text></g>
<g id="e_h_c2"><circle class="n" cx="921.7" cy="656.7" r="3.6"/><text class="ml" x="917.2" y="652.4">h_c</text></g>
<g id="e_coxred_p"><circle class="n" cx="901.3" cy="669.3" r="3.6"/><text class="ml" x="886.6" y="677.8">coxred_p</text></g>
<g id="e_o2_c"><circle class="n" cx="920" cy="686.4" r="3.6"/><text class="ml" x="909.7" y="696.2">o2_c</text></g>
<g id="e_h2o_c"><circle class="n" cx="1013" cy="683.9" r="3.6"/><text class="ml" x="1010" y="696.7">h2o_c</text></g>
<g id="e_coxox_p"><circle class="n" cx="1042.6" cy="668" r="6.4"/><text class="ml" x="1015.5" y="662.2">coxox_p</text></g>
<g id="e_q_p3"><circle class="n" cx="1218.6" cy="542.6" r="6.4"/><text class="ml" x="1199.4" y="544.8">q_p</text></g>
<g id="e_qored_p"><circle class="n" cx="1264.8" cy="545.3" r="3.6"/><text class="ml" x="1249.5" y="538.7">qored_p</text></g>
<g id="e_h2o_c3"><circle class="n" cx="1255.4" cy="563.5" r="3.6"/><text class="ml" x="1262.6" y="565.7">h2o_c</text></g>
<g id="e_qoox_p"><circle class="n" cx="1269.9" cy="620.7" r="3.6"/><text class="ml" x="1262" y="616.1">qoox_p</text></g>
<g id="e_qh2_p3"><circle class="n" cx="1250.9" cy="639.1" r="3.6"/><text class="ml" x="1262" y="640">qh2_p</text></g>
<g id="e_h_c3"><circle class="n" cx="1221.7" cy="649.7" r="6.4"/><text class="ml" x="1229.5" y="650.1">h_c</text></g>
<g id="e_o2_p"><circle class="n" cx="1198" cy="645.4" r="3.6"/><text class="ml" x="1203" y="646.2">o2_p</text></g>
<g id="e_h2o_c4"><circle class="n" cx="1151.8" cy="816" r="3.6"/><text class="ml" x="1141.5" y="810.8">h2o_c</text></g>
<g id="e_pi_c"><circle class="n" cx="1217.8" cy="821.2" r="3.6"/><text class="ml" x="1212.8" y="815.9">pi_c</text></g>
<g id="e_atp_c"><circle class="n" cx="1146.7" cy="846.7" r="6.4"/><text class="ml" x="1148.4" y="857.7">atp_c</text></g>
<g id="e_adp_c"><circle class="n" cx="1216.6" cy="845.4" r="3.6"/><text class="ml" x="1222" y="846.2">adp_c</text></g>
<g id="e_cytCox_p"><circle class="n" cx="869.7" cy="948.8" r="3.6"/><text class="ml" x="838.5" y="949.5">cytCox_p</text></g>
<g id="e_cytCred_p"><circle class="n" cx="1097.2" cy="926.1" r="6.4"/><text class="ml" x="1107.5" y="934.6">cytCred_p</text></g>
</g>
<g id="reaction-labels">
<text class="rl" x="112" y="21.6">EX_CO2 1.29</text>
<text class="rl" x="174" y="22.2">EX_h2o_e 2.02</text>
<text class="rl" x="269" y="23.4">EX_meoh_e (nd)</text>
<text class="rl" x="393.5" y="29.2">EX_o2_e -3.63</text>
<text class="rl" x="520.3" y="27.7">EX_ch4_e -2.85</text>
<text class="rl" x="194" y="146.2">H2Otep 2.02</text>
<text class="rl" x="195.3" y="220.5">H2Otcp -0.835</text>
<text class="rl" x="302" y="141.8">MEohtep (nd)</text>
<text class="rl" x="372.4" y="118.3">O2tec 0.778</text>
<text class="rl" x="415.4" y="143.2">O2tep 2.85</text>
<text class="rl" x="549.3" y="140.5">CH4tep 2.85</text>
<text class="rl" x="549.3" y="220">pMMO 2.85</text>
<text class="rl" x="444.4" y="344">MXA 2.85</text>
<text class="rl" x="537.7" y="336.3">MXALa (nd)</text>
<text class="rl" x="660.3" y="341.5">LAt (nd)</text>
<text class="rl" x="925.6" y="86.4">CYTCLEL (nd)</text>
<text class="rl" x="933.9" y="158.3">NDHQH2 1.56</text>
<text class="rl" x="938.1" y="333.4">QH2EL (nd)</text>
<text class="rl" x="115.8" y="416.8">FDHTungs 1.04</text>
<text class="rl" x="238.9" y="414.3">TUNGSt -1.04</text>
<text class="rl" x="30.9" y="430">FDH (nd)</text>
<text class="rl" x="224.8" y="480.3">FORtpc (nd)</text>
<text class="rl" x="367.6" y="427.4">MXALa_for (nd)</text>
<text class="rl" x="156.5" y="500.5">FHCA 1.25</text>
<text class="rl" x="263.3" y="500.5">MCH 1.25</text>
<text class="rl" x="371" y="500.5">MTDB 1.25</text>
<text class="rl" x="478.7" y="500.5">FAE 1.25</text>
<text class="rl" x="558.3" y="457.9">FALDtpc 2.85</text>
<text class="rl" x="552.6" y="547.9">HPS 1.60</text>
<text class="rl" x="552.6" y="676.3">HPI 1.60</text>
<text class="rl" x="695.4" y="521.4">RPI 0.522</text>
<text class="rl" x="655.8" y="643.1">TALA 0.535</text>
<text class="rl" x="705.3" y="658.8">TKT1 0.535</text>
<text class="rl" x="590.6" y="715">TKT2 0.546</text>
<text class="rl" x="776" y="714.7">PPE 1.08</text>
<text class="rl" x="479" y="715">PGI 0.111</text>
<text class="rl" x="485.8" y="777.7">PFK_ppi 0.408</text>
<text class="rl" x="361.7" y="715">G6PDH2r 0.0956</text>
<text class="rl" x="346.5" y="770.4">PGL 0.0956</text>
<text class="rl" x="136" y="621.5">FTHFLi -0.00161</text>
<text class="rl" x="362" y="656.2">FAEii (nd)</text>
<text class="rl" x="135.7" y="731.1">MTHFC 0.0111</text>
<text class="rl" x="92.7" y="823.5">MTHFD 0.0111</text>
<text class="rl" x="164.4" y="910.5">GHMT 0.0141</text>
<text class="rl" x="165.8" y="1009.8">SGAT (nd)</text>
<text class="rl" x="167.5" y="1116.9">HPYRRx (nd)</text>
<text class="rl" x="347.1" y="857.6">EDD 0.0956</text>
<text class="rl" x="344.6" y="938.7">EDA 0.0956</text>
<text class="rl" x="344.6" y="1044.1">PSPW 0.0956</text>
<text class="rl" x="471.1" y="1003.5">PYK 0.287</text>
<text class="rl" x="467.5" y="1106.3">ENO 0.310</text>
<text class="rl" x="488.8" y="1170">PGM 0.310</text>
<text class="rl" x="551.2" y="853">FBA 0.408</text>
<text class="rl" x="628" y="902.9">TPI -0.401</text>
<text class="rl" x="705.8" y="800.1">X5PPKT (nd)</text>
<text class="rl" x="551.2" y="1006.2">GAPD 0.336</text>
<text class="rl" x="554" y="1099.8">PGK 0.336</text>
<text class="rl" x="711.4" y="1130.2">PDH 0.290</text>
<text class="rl" x="883.8" y="1094.9">MCLA1 -0.00000679</text>
<text class="rl" x="974" y="1139.7">MTK -0.00000679</text>
<text class="rl" x="827.5" y="1178.1">MDH 0.290</text>
<text class="rl" x="957.9" y="1186.6">ASPAT 0.253</text>
<text class="rl" x="900.5" y="1224.1">FUM -0.212</text>
<text class="rl" x="453.7" y="1223.4">GLYCK2 -0.0000308</text>
<text class="rl" x="578" y="1263.9">PC (nd)</text>
<text class="rl" x="293.7" y="1265.9">LDH 0.000123</text>
<text class="rl" x="792.9" y="1248.4">CS 0.0365</text>
<text class="rl" x="689.8" y="1292.7">ACONHT 0.0365</text>
<text class="rl" x="604.6" y="1366">ACONHT_1 0.0365</text>
<text class="rl" x="627.1" y="1465.4">ICDHyr 0.0365</text>
<text class="rl" x="807" y="1535">AKGDH (nd)</text>
<text class="rl" x="954.8" y="1490.6">SUCOAS 0.00456</text>
<text class="rl" x="973.2" y="1321.5">FRD 0.00300</text>
<text class="rl" x="933.9" y="452.9">CYTCLEL_UPHILL 0.950</text>
<text class="rl" x="941.2" y="520.7">CYTBCQH2 1.56</text>
<text class="rl" x="936.7" y="576.9">COXOX 0.950</text>
<text class="rl" x="937" y="663.3">RESPCOX 1.56</text>
<text class="rl" x="1181.8" y="748.7">PMF 1.18</text>
<text class="rl" x="1228" y="599.5">CYTDUO (nd)</text>
<text class="rl" x="932.8" y="824.8">CYTCCOX 0.605</text>
<text class="rl" x="935.3" y="1044.6">CYTBCCYTC 0.605</text>
</g>
<g id="titles">
<text class="tt" x="877.7" y="65.5">Electron transport chain</text>
<text class="tt" x="622" y="469">RuMP pathway</text>
<text class="tt" x="258" y="560.5">H4MPT pathway</text>
<text class="tt" x="231" y="850">EDD pathway</text>
<text class="tt" x="438.8" y="852.5">EMP pathway</text>
<text class="tt" x="4.2" y="904">partial Serine cycle</text>
<text class="tt" x="806.2" y="1409.5">TCA</text>
</g>
</g>
</svg>
